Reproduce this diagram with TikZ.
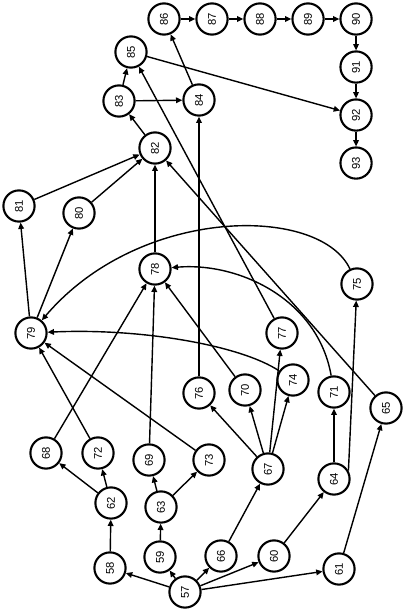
\documentclass[tikz,border=0pt]{standalone}
\usepackage{fontspec}
\setmainfont{Liberation Sans}
\usepackage{tikz}
\usetikzlibrary{arrows.meta,positioning}
\tikzstyle{vertex} = [draw, circle, line width=1.5pt, minimum size=0.78cm, inner sep=0pt,
	font=\fontsize{8}{9}\selectfont]
\tikzstyle{edge} = [line width=1pt, -{Triangle[length=4.5pt,width=4pt]}]
\newcommand{\nr}[1]{\rotatebox{90}{#1}} % Beschriftung hochkant

\begin{document}
\begin{tikzpicture}[x=0.025cm, y=-0.025cm, node distance=1.2cm]%[x,y in Pixel des Bildes]
		\useasboundingbox (0,0) rectangle (407,612);
		\node[vertex] (k57) at (185,592) {\nr{57}};		% Wurzel
		\node[vertex] (k58) at (110,568) {\nr{58}};
		\node[vertex] (k59) at (160,557) {\nr{59}};
		\node[vertex] (k66) at (221,556) {\nr{66}};
		\node[vertex] (k60) at (274,556) {\nr{60}};
		\node[vertex] (k61) at (339,569) {\nr{61}};
		\node[vertex] (k62) at (111,503) {\nr{62}};
		\node[vertex] (k63) at (161,507) {\nr{63}};
		\node[vertex] (k67) at (268,469) {\nr{67}};
		\node[vertex] (k64) at (334,479) {\nr{64}};
		\node[vertex] (k65) at (386,408) {\nr{65}};
		\node[vertex] (k68) at (46,453) {\nr{68}};
		\node[vertex] (k72) at (98,453) {\nr{72}};
		\node[vertex] (k69) at (149,460) {\nr{69}};
		\node[vertex] (k73) at (209,460) {\nr{73}};
		\node[vertex] (k76) at (199,393) {\nr{76}};
		\node[vertex] (k70) at (245,390) {\nr{70}};
		\node[vertex] (k74) at (293,380) {\nr{74}};
		\node[vertex] (k71) at (334,392) {\nr{71}};
		\node[vertex] (k77) at (282,333) {\nr{77}};
		\node[vertex] (k75) at (357,284) {\nr{75}};
		\node[vertex] (k79) at (31,333) {\nr{79}};
		\node[vertex] (k78) at (155,269) {\nr{78}};
		\node[vertex] (k80) at (79,213) {\nr{80}};
		\node[vertex] (k81) at (19,206) {\nr{81}};
		\node[vertex] (k82) at (155,148) {\nr{82}};
		\node[vertex] (k83) at (119,101) {\nr{83}};
		\node[vertex] (k84) at (199,100) {\nr{84}};
		\node[vertex] (k85) at (131,52) {\nr{85}};
		\node[vertex] (k86) at (164,19) {\nr{86}};
		\node[vertex,right of=k86] (k87) {\nr{87}};		% Kette oben
		\node[vertex,right of=k87] (k88) {\nr{88}};
		\node[vertex,right of=k88] (k89) {\nr{89}};
		\node[vertex,right of=k89] (k90) {\nr{90}};
		\node[vertex,below of=k90] (k91) {\nr{91}};
		\node[vertex,below of=k91] (k92) {\nr{92}};
		\node[vertex,below of=k92] (k93) {\nr{93}};
		
		% gerade Kanten
		\draw[edge] (k57) to (k58);
		\draw[edge] (k57) to (k59);
		\draw[edge] (k57) to (k66);
		\draw[edge] (k57) to (k60);
		\draw[edge] (k57) to (k61);
		\draw[edge] (k58) to (k62);
		\draw[edge] (k59) to (k63);
		\draw[edge] (k62) to (k68);
		\draw[edge] (k62) to (k72);
		\draw[edge] (k63) to (k69);
		\draw[edge] (k63) to (k73);
		\draw[edge] (k66) to (k67);
		\draw[edge] (k60) to (k64);
		\draw[edge] (k61) to (k65);
		\draw[edge] (k64) to (k71);
		\draw[edge] (k64.30) to (k75);
		\draw[edge] (k67) to (k76);
		\draw[edge] (k67) to (k70);
		\draw[edge] (k67) to (k77);
		\draw[edge] (k67) to (k74);
		\draw[edge] (k68) to (k78);
		\draw[edge] (k72) to (k79);
		\draw[edge] (k69) to (k78);
		\draw[edge] (k73) to (k79);
		\draw[edge] (k76) to (k84);
		\draw[edge] (k70) to (k78);
		\draw[edge] (k77) to (k85);
		\draw[edge] (k65) to (k82);
		\draw[edge] (k79) to (k81);
		\draw[edge] (k79) to (k80);
		\draw[edge] (k80) to (k82);
		\draw[edge] (k81) to (k82);
		\draw[edge] (k78) to (k82);
		\draw[edge] (k82) to (k83);
		\draw[edge] (k83) to (k84);
		\draw[edge] (k83) to (k85);
		\draw[edge] (k84) to (k86);
		\draw[edge] (k85) to (k92);
		\draw[edge] (k86) to (k87);
		\draw[edge] (k87) to (k88);
		\draw[edge] (k88) to (k89);
		\draw[edge] (k89) to (k90);
		\draw[edge] (k90) to (k91);
		\draw[edge] (k91) to (k92);
		\draw[edge] (k92) to (k93);
		
		% gebogene Kanten
		\draw[edge] (k75) .. controls (320,205) and (140,205) .. (k79);
		\draw[edge] (k71) .. controls (318,300) and (240,262) .. (k78);
		\draw[edge] (k74) .. controls (240,345) and (140,328) .. (k79);
\end{tikzpicture}
\end{document}
